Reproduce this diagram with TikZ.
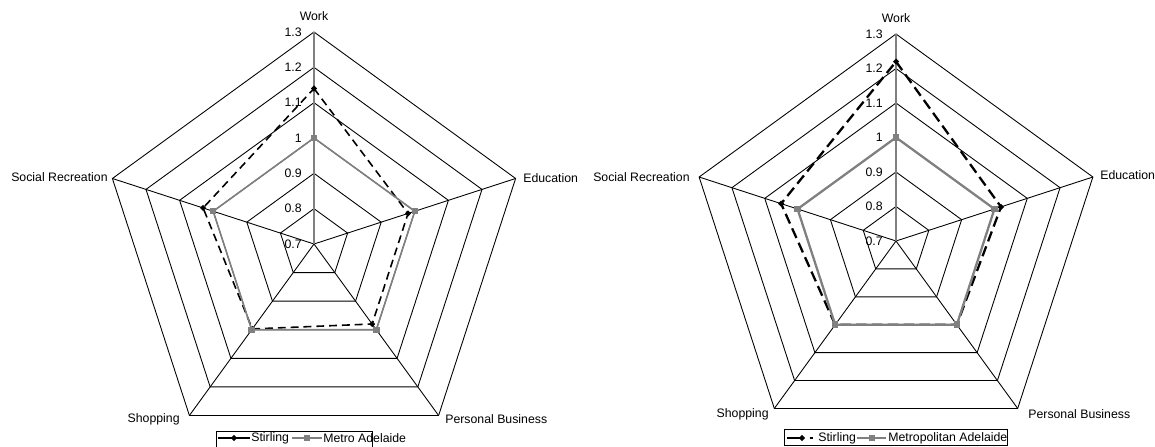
\documentclass[tikz,border=0pt]{standalone}
\usepackage{fontspec}
\setmainfont{Liberation Sans}
\usetikzlibrary{shapes.geometric,positioning}

\begin{document}
\begin{tikzpicture}[x=0.02cm, y=0.02cm,
  gridline/.style={black, line width=0.5pt},
  valaxis/.style={gray, line width=0.9pt},
  axlabel/.style={inner sep=0pt, font=\fontsize{7}{8}\selectfont},
  ticklab/.style={inner sep=0pt, anchor=east, font=\fontsize{7}{8}\selectfont},
  stirl/.style={black, line width=0.9pt, dash pattern=on 4.5pt off 2.8pt},
  stirr/.style={black, line width=1.3pt, dash pattern=on 6pt off 3pt},
  metl/.style={gray, line width=0.9pt},
  metr/.style={gray, line width=1.3pt},
  sdiam/.style={diamond, fill=black, inner sep=0pt, minimum size=0.13cm},
  msq/.style={rectangle, fill=gray, inner sep=0pt, minimum size=0.13cm},
  legbox/.style={draw=black, line width=0.5pt}
]
  \useasboundingbox (0,0) rectangle (1155,446);

  % left chart
  \begin{scope}[shift={(314,202)}]
    \foreach \k in {1,...,6}
      \draw[gridline] (90:{\k*35.33}) -- (18:{\k*35.33}) -- (-54:{\k*35.33}) -- (-126:{\k*35.33}) -- (162:{\k*35.33}) -- cycle;
    \foreach \a in {18,-54,-126,162}
      \draw[gridline] (0,0) -- (\a:212);
    \draw[valaxis] (0,0) -- (90:212);
    \foreach \v [count=\k from 0] in {0.7,0.8,0.9,1,1.1,1.2,1.3}
      \node[ticklab] (ltick\k) at (-12,{\k*35.33}) {\v};

    \node[axlabel] (lwork) at (0,228) {Work};
    \node[axlabel, anchor=west] (ledu) at (209,66) {Education};
    \node[axlabel, anchor=west] (lpers) at (131,-175) {Personal Business};
    \node[axlabel, anchor=east] (lshop) at (-134,-175) {Shopping};
    \node[axlabel, anchor=east] (lsoc) at (-206,67) {Social Recreation};

    % Stirling
    \coordinate (ls1) at (90:155.5);
    \coordinate (ls2) at (18:98.9);
    \coordinate (ls3) at (-54:98.9);
    \coordinate (ls4) at (-126:105);
    \coordinate (ls5) at (162:116.6);
    \draw[stirl] (ls1) -- (ls2) -- (ls3) -- (ls4) -- (ls5) -- cycle;
    \foreach \i in {1,...,5}
      \node[sdiam] (lsd\i) at (ls\i) {};

    % Metro Adelaide
    \coordinate (lm1) at (90:106);
    \coordinate (lm2) at (18:106);
    \coordinate (lm3) at (-54:106);
    \coordinate (lm4) at (-126:106);
    \coordinate (lm5) at (162:106);
    \draw[metl] (lm1) -- (lm2) -- (lm3) -- (lm4) -- (lm5) -- cycle;
    \foreach \i in {1,...,5}
      \node[msq] (lmq\i) at (lm\i) {};
  \end{scope}

  % left legend
  \draw[legbox] (216,-6) rectangle (372,15);
  \coordinate (lla) at (218,8);
  \coordinate (llb) at (250,8);
  \draw[black, line width=0.9pt] (lla) -- (llb);
  \node[sdiam] (llegd) at (234,8) {};
  \node[axlabel, anchor=west] (llegs) at (251,8) {Stirling};
  \coordinate (llc) at (292,8);
  \coordinate (lld) at (322,8);
  \draw[metl] (llc) -- (lld);
  \node[msq] (llegq) at (307,8) {};
  \node[axlabel, anchor=west] (llegm) at (323,8) {Metro Adelaide};

  % right chart
  \begin{scope}[shift={(896,205)}]
    \foreach \k in {1,...,6}
      \draw[gridline] (90:{\k*34.5}) -- (18:{\k*34.5}) -- (-54:{\k*34.5}) -- (-126:{\k*34.5}) -- (162:{\k*34.5}) -- cycle;
    \foreach \a in {18,-54,-126,162}
      \draw[gridline] (0,0) -- (\a:207);
    \draw[valaxis] (0,0) -- (90:207);
    \foreach \v [count=\k from 0] in {0.7,0.8,0.9,1,1.1,1.2,1.3}
      \node[ticklab] (rtick\k) at (-13,{\k*34.5}) {\v};

    \node[axlabel] (rwork) at (0,223) {Work};
    \node[axlabel, anchor=west] (redu) at (204,66) {Education};
    \node[axlabel, anchor=west] (rpers) at (132,-173) {Personal Business};
    \node[axlabel, anchor=east] (rshop) at (-127,-173) {Shopping};
    \node[axlabel, anchor=east] (rsoc) at (-206,64) {Social Recreation};

    % Stirling
    \coordinate (rs1) at (90:179.4);
    \coordinate (rs2) at (18:110.4);
    \coordinate (rs3) at (-54:103.5);
    \coordinate (rs4) at (-126:103.5);
    \coordinate (rs5) at (162:120.8);
    \draw[stirr] (rs1) -- (rs2) -- (rs3) -- (rs4) -- (rs5) -- cycle;
    \foreach \i in {1,...,5}
      \node[sdiam] (rsd\i) at (rs\i) {};

    % Metropolitan Adelaide
    \coordinate (rm1) at (90:103.5);
    \coordinate (rm2) at (18:103.5);
    \coordinate (rm3) at (-54:103.5);
    \coordinate (rm4) at (-126:103.5);
    \coordinate (rm5) at (162:103.5);
    \draw[metr] (rm1) -- (rm2) -- (rm3) -- (rm4) -- (rm5) -- cycle;
    \foreach \i in {1,...,5}
      \node[msq] (rmq\i) at (rm\i) {};
  \end{scope}

  % right legend
  \draw[legbox] (784,0.6) rectangle (1007,17);
  \coordinate (rla) at (787,8);
  \coordinate (rlb) at (816,8);
  \draw[black, line width=1.3pt, dash pattern=on 7.5pt off 5.5pt on 1.8pt] (rla) -- (rlb);
  \node[sdiam] (rlegd) at (802,8) {};
  \node[axlabel, anchor=west] (rlegs) at (818,8) {Stirling};
  \coordinate (rlc) at (857,8);
  \coordinate (rld) at (886,8);
  \draw[metr] (rlc) -- (rld);
  \node[msq] (rlegq) at (872,8) {};
  \node[axlabel, anchor=west] (rlegm) at (888,8) {Metropolitan Adelaide};
\end{tikzpicture}
\end{document}
